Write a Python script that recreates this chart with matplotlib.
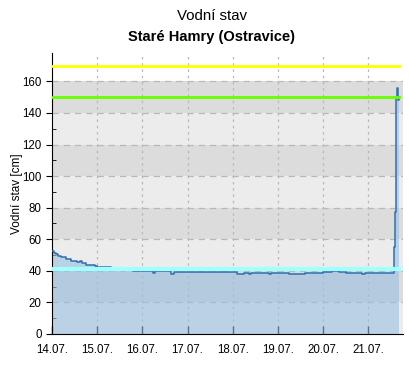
"""
Vodni stav - Stare Hamry (Ostravice), hydrograph for one week.
"""
import numpy as np
import matplotlib
matplotlib.use("Agg")
import matplotlib.pyplot as plt

plt.rcParams['font.family'] = ['Liberation Sans', 'DejaVu Sans']

# time in days since 14.07. 00:00, water level in cm (step series)
days = [0.00, 0.04, 0.08, 0.14, 0.20, 0.30, 0.42, 0.55, 0.62, 0.66, 0.75,
        0.85, 0.95, 1.00, 1.30, 1.65, 1.80, 2.20, 2.23, 2.28, 2.60, 2.64,
        2.70, 3.20, 3.24, 3.80, 4.10, 4.20, 4.25, 4.35, 4.40, 4.55, 4.80,
        4.85, 5.20, 5.25, 5.60, 6.00, 6.10, 6.20, 6.35, 6.50, 6.87, 6.92,
        7.56, 7.58, 7.60, 7.62, 7.64, 7.66, 7.68]
level = [52.5, 51.5, 50.5, 49.5, 48.5, 47.5, 46.5, 45.5, 46.0, 45.0, 44.0,
         43.5, 43.0, 42.5, 42.0, 40.5, 40.0, 40.0, 38.5, 40.0, 40.0, 38.3,
         39.0, 39.0, 39.5, 39.0, 38.3, 38.0, 38.5, 38.0, 38.5, 38.5, 37.8,
         38.5, 38.5, 38.0, 38.5, 39.5, 39.0, 39.8, 39.2, 38.5, 37.9, 38.5,
         42.0, 55.0, 77.0, 150.0, 156.0, 148.0, 150.0]

day_labels = ["14.07.", "15.07.", "16.07.", "17.07.", "18.07.", "19.07.",
              "20.07.", "21.07."]

limits = [41, 150, 170]          # cyan, green, yellow reference lines
limit_colors = ["#a0ffff", "#66ff00", "#ffff00"]

fig = plt.figure(figsize=(4.09, 3.65), dpi=100)
ax = fig.add_axes([52 / 409, 31 / 365, 351 / 409, 281 / 365])

ymax = 178
xmax = 7.77
ax.set_xlim(0, xmax)
ax.set_ylim(0, ymax)

# alternating background bands
ax.set_facecolor("white")
for lo in range(0, 160, 20):
    col = "#dcdcdc" if (lo // 20) % 2 == 1 else "#ececec"
    ax.axhspan(lo, lo + 20, color=col, lw=0, zorder=0)

for y in range(20, 161, 20):
    ax.axhline(y, color="#b8b8b8", lw=0.9, ls=(0, (5, 4)), zorder=1)
for d in range(1, len(day_labels)):
    ax.axvline(d, color="#b8b8b8", lw=0.9, ls=(0, (2, 3)), zorder=1)

x = np.array(days)
v = np.array(level)
ax.fill_between(x, v, step="post", color="#9abfe2", alpha=0.6, lw=0, zorder=2)
ax.step(x, v, where="post", color="#2f6fae", lw=1.1, zorder=3)

for lvl, c in zip(limits, limit_colors):
    lw = 3 if c == "#a0ffff" else 2
    ax.plot([0, x[-1]], [lvl, lvl], color=c, lw=lw, zorder=4)

ax.set_xticks(range(len(day_labels)))
ax.set_xticklabels(day_labels)
ax.set_yticks(range(0, 161, 20))
ax.set_yticks(range(10, 171, 20), minor=True)
ax.tick_params(axis="x", direction="in", length=6, width=1, labelsize=8.3, pad=7)
ax.tick_params(axis="y", which="major", direction="out", length=4, labelsize=8.3)
ax.tick_params(axis="y", which="minor", direction="in", length=3)

for s in ["top", "right"]:
    ax.spines[s].set_visible(False)

ax.set_ylabel("Vodní stav [cm]", fontsize=8.5)
ax.yaxis.set_label_coords((23 - 52) / 351, 0.5)

fig.text(212 / 409, 1 - 16 / 365, "Vodní stav", ha="center", va="center", fontsize=10.8)
fig.text(212 / 409, 1 - 37 / 365, "Staré Hamry (Ostravice)", ha="center",
         va="center", fontsize=10.5, fontweight="bold")

fig.savefig("out.png", dpi=100)
